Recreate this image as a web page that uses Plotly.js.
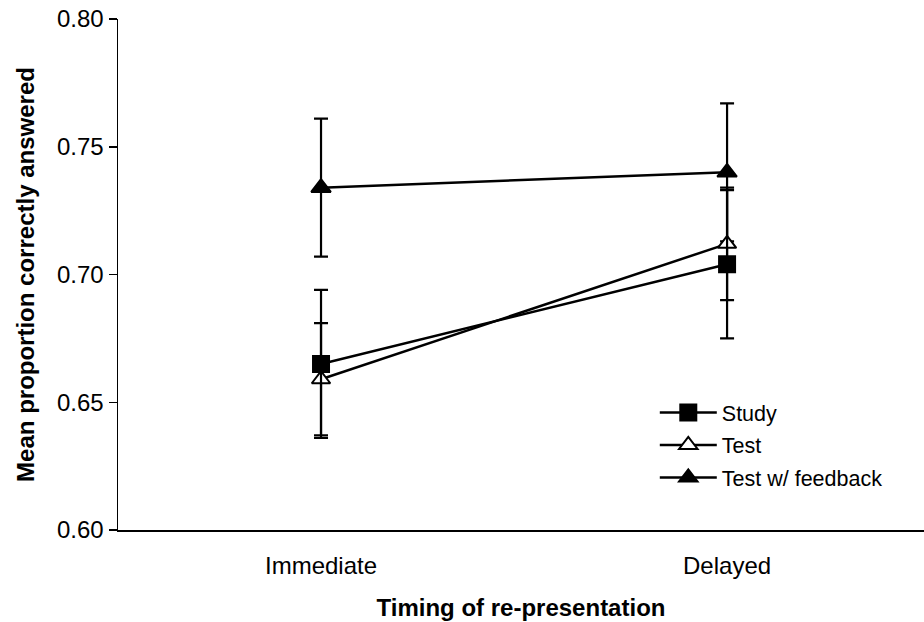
<!DOCTYPE html>
<html>
<head>
<meta charset="utf-8">
<script src="https://cdn.plot.ly/plotly-3.0.1.min.js"></script>
<style>html,body{margin:0;padding:0;background:#fff;}#chart{width:924px;height:622px;}</style>
</head>
<body>
<div id="chart"></div>
<script>
var categories = ["Immediate", "Delayed"];
var seriesNames = ["Study", "Test", "Test w/ feedback"];
var studyMeans = [0.665, 0.704];
var studyErr = [0.029, 0.029];
var testMeans = [0.659, 0.712];
var testErr = [0.022, 0.022];
var feedbackMeans = [0.734, 0.740];
var feedbackErr = [0.027, 0.027];
var yTickVals = [0.60, 0.65, 0.70, 0.75, 0.80];
var yTickText = ["0.60", "0.65", "0.70", "0.75", "0.80"];

var FONT = "Arial, 'Liberation Sans', sans-serif";

function mkTrace(name, rank, means, errs, symbol, fill, size) {
  return {
    type: "scatter",
    mode: "lines+markers",
    name: name,
    legendgroup: "g" + rank,
    legendrank: rank,
    x: categories,
    y: means,
    line: {color: "#000", width: 2.5},
    marker: {symbol: symbol, size: size, color: fill, line: {color: "#000", width: 2}},
    error_y: {type: "data", array: errs, visible: true, color: "#000", thickness: 2.2, width: 7},
    cliponaxis: false
  };
}

var data = [
  mkTrace(seriesNames[2], 3, feedbackMeans, feedbackErr, "triangle-up", "#000", 17),
  mkTrace(seriesNames[1], 2, testMeans, testErr, "triangle-up", "#fff", 16),
  mkTrace(seriesNames[0], 1, studyMeans, studyErr, "square", "#000", 16)
];

var layout = {
  width: 924,
  height: 622,
  margin: {l: 118, r: 0, t: 19, b: 92},
  paper_bgcolor: "#fff",
  plot_bgcolor: "#fff",
  font: {family: FONT, size: 24, color: "#000"},
  showlegend: true,
  legend: {
    x: 0.666, y: 0.27, xanchor: "left", yanchor: "top",
    traceorder: "grouped",
    font: {family: FONT, size: 21.5, color: "#000"},
    bgcolor: "rgba(0,0,0,0)",
    itemwidth: 57,
    tracegroupgap: 1.5
  },
  xaxis: {
    type: "category",
    range: [-0.5, 1.485],
    showline: true,
    linecolor: "#000",
    linewidth: 1.5,
    ticks: "",
    showgrid: false,
    zeroline: false,
    ticklabelstandoff: 14,
    tickfont: {family: FONT, size: 24},
    title: {text: "<b>Timing of re-presentation</b>", font: {family: FONT, size: 24}, standoff: 21}
  },
  yaxis: {
    range: [0.6, 0.8],
    tickvals: yTickVals,
    ticktext: yTickText,
    showline: true,
    linecolor: "#000",
    linewidth: 1.5,
    ticks: "outside",
    ticklen: 8,
    tickwidth: 1.5,
    tickcolor: "#000",
    showgrid: false,
    zeroline: false,
    tickfont: {family: FONT, size: 24},
    title: {text: "<b>Mean proportion correctly answered</b>", font: {family: FONT, size: 24}, standoff: 15}
  }
};

Plotly.newPlot("chart", data, layout, {displayModeBar: false, staticPlot: true});
</script>
</body>
</html>
